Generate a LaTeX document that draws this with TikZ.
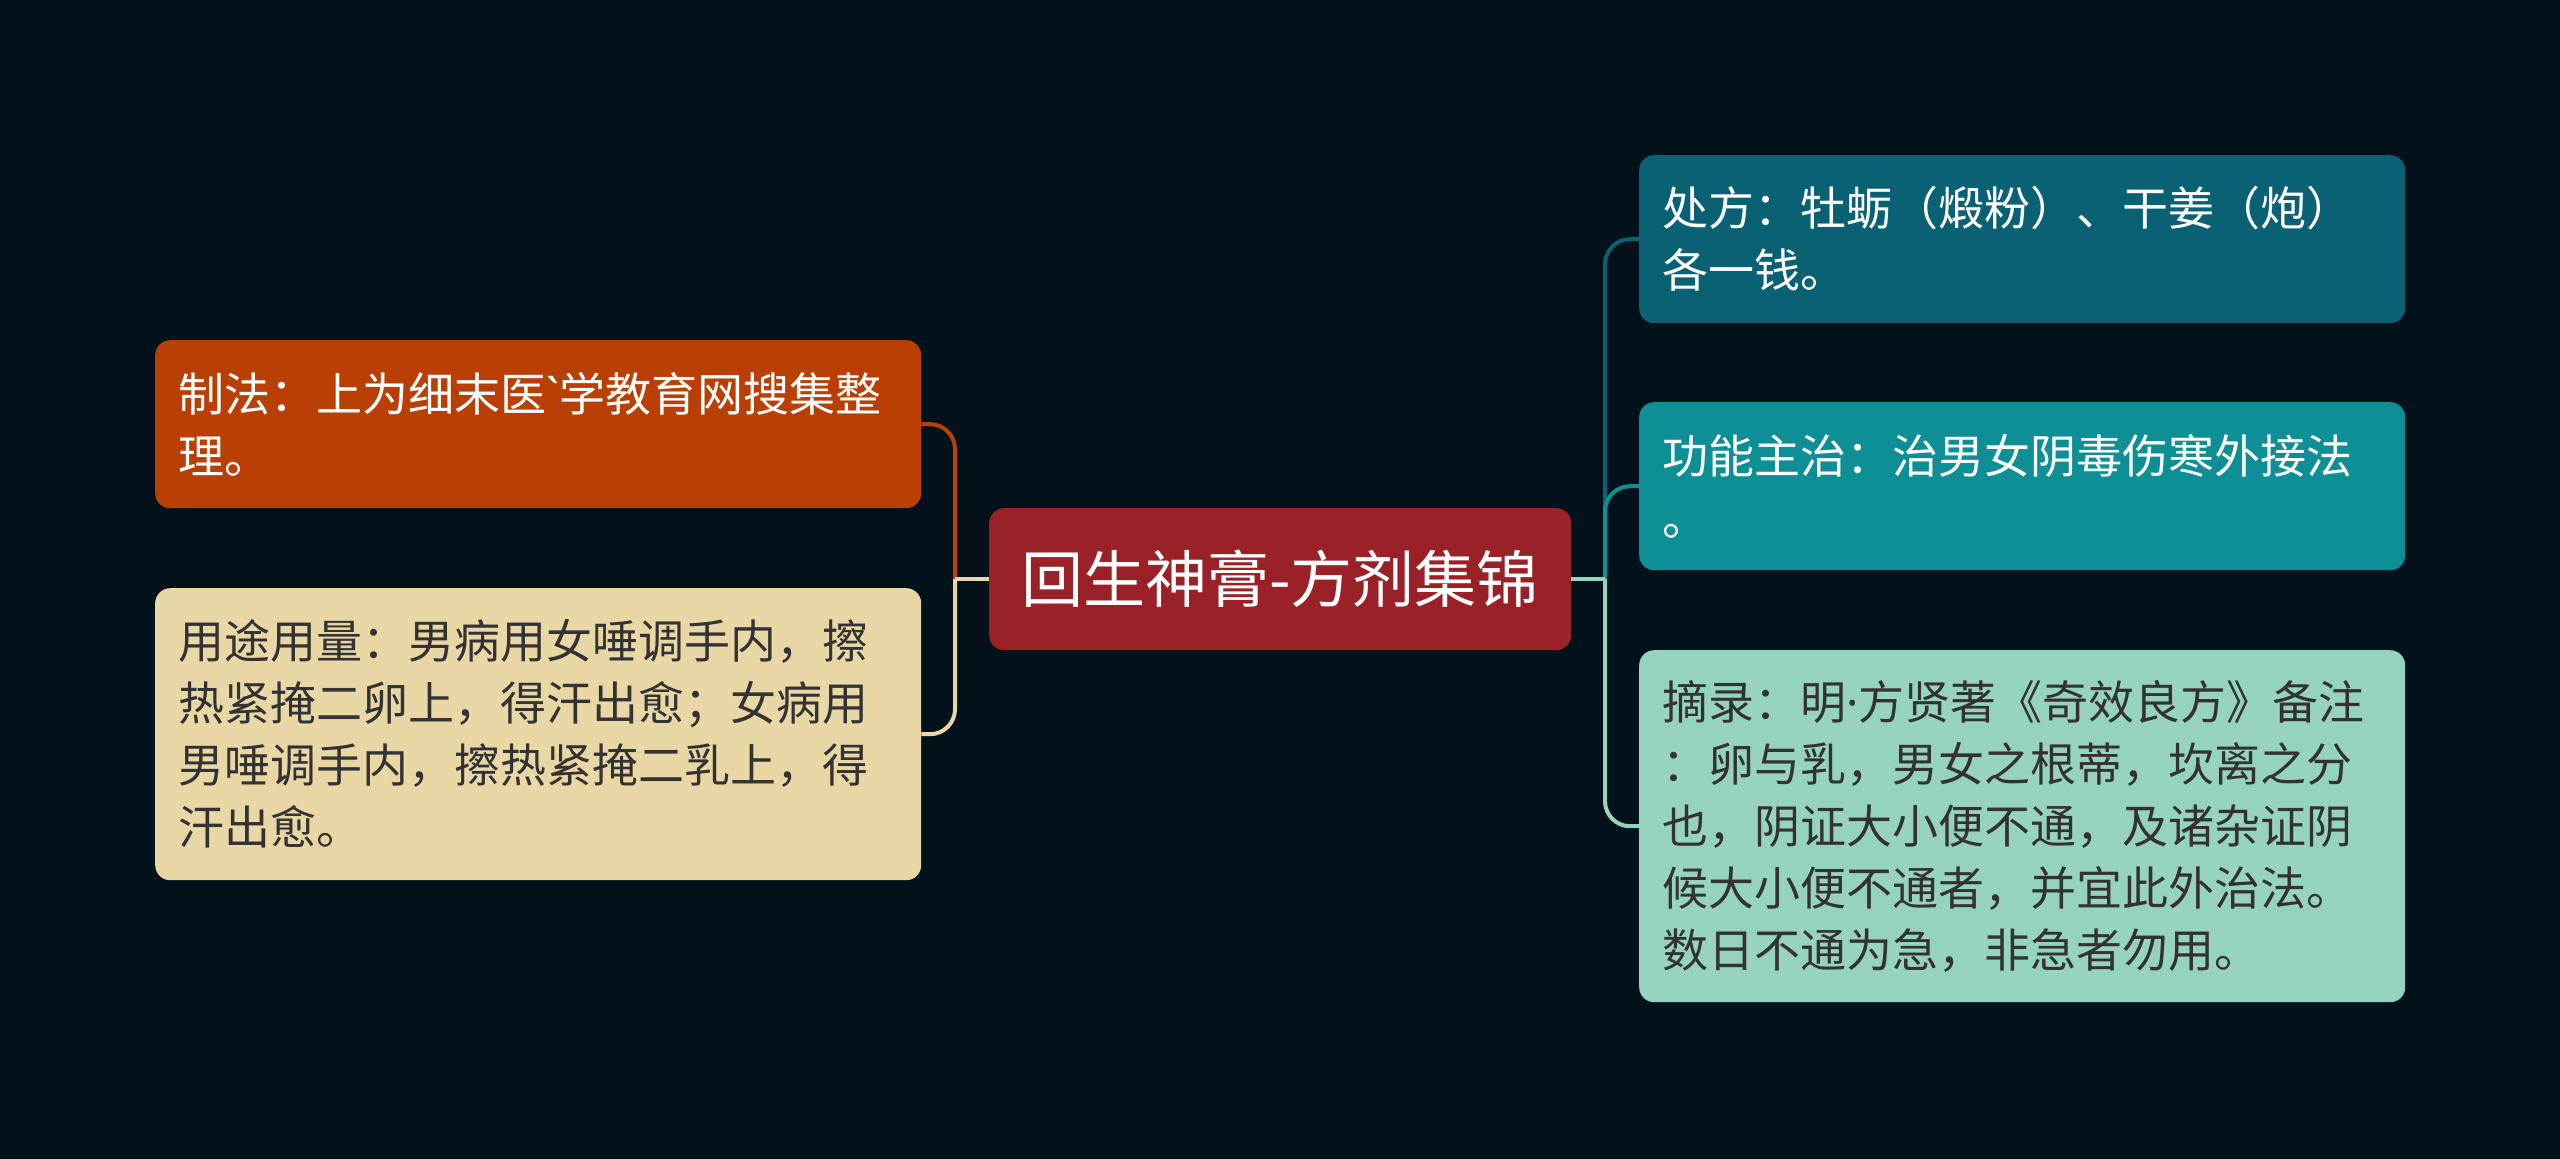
\documentclass[tikz,border=0pt]{standalone}
\usepackage{fontspec}
\newfontfamily\cjk{Noto Sans CJK SC}
\newfontfamily\latn{Noto Sans}
\definecolor{bgc}{HTML}{03111A}
\definecolor{cred}{HTML}{9A2128}
\definecolor{corange}{HTML}{B93F05}
\definecolor{cbeige}{HTML}{E8D7A5}
\definecolor{cdteal}{HTML}{0A6174}
\definecolor{cteal}{HTML}{0E8F95}
\definecolor{cmint}{HTML}{96D3BF}
\definecolor{dtext}{HTML}{333333}
\tikzset{
  box/.style={rounded corners=15pt, inner xsep=23pt, inner ysep=0pt,
    minimum width=766pt, text width=720pt, align=left, anchor=north west,
    font=\cjk\fontsize{46}{62}\selectfont},
  rootbox/.style={rounded corners=15pt, fill=cred, text=white, inner sep=0pt,
    minimum width=582pt, minimum height=142pt, anchor=north west,
    font=\cjk\fontsize{62}{70}\selectfont},
  conn/.style={line width=4pt, rounded corners=25pt}
}
\begin{document}
\begin{tikzpicture}[x=1pt,y=-1pt]
\fill[bgc] (0,0) rectangle (2560,1159);
\useasboundingbox (0,0) rectangle (2560,1159);

\node[rootbox] (c) at (989,508) {回生神膏-方剂集锦};

\node[box, fill=corange, text=white, minimum height=168pt] (l1) at (155,340)
  {制法：上为细末医{\latn `}学教育网搜集整\\理。};
\node[box, fill=cbeige, text=dtext, minimum height=292pt] (l2) at (155,588)
  {用途用量：男病用女唾调手内，擦\\热紧掩二卵上，得汗出愈；女病用\\男唾调手内，擦热紧掩二乳上，得\\汗出愈。};

\node[box, fill=cdteal, text=white, minimum height=168pt] (r1) at (1639,155)
  {处方：牡蛎（煅粉）、干姜（炮）\\各一钱。};
\node[box, fill=cteal, text=white, minimum height=168pt] (r2) at (1639,402)
  {功能主治：治男女阴毒伤寒外接法\\。};
\node[box, fill=cmint, text=dtext, minimum height=352pt] (r3) at (1639,650)
  {摘录：明{\latn ·}方贤著《奇效良方》备注\\：卵与乳，男女之根蒂，坎离之分\\也，阴证大小便不通，及诸杂证阴\\候大小便不通者，并宜此外治法。\\数日不通为急，非急者勿用。};

\coordinate (jl) at (955,579);
\coordinate (jr) at (1605,579);

\draw[conn, corange] (jl) |- (l1.east);
\draw[conn, cbeige] (jl) |- (l2.east);
\draw[line width=4pt, cbeige] (c.west |- jl) -- (jl);

\draw[conn, cdteal] (jr) |- (r1.west);
\draw[conn, cteal] (jr) |- (r2.west);
\draw[conn, cmint] (jr) |- (r3.west);
\draw[line width=4pt, cmint] (c.east |- jr) -- (jr);
\end{tikzpicture}
\end{document}
